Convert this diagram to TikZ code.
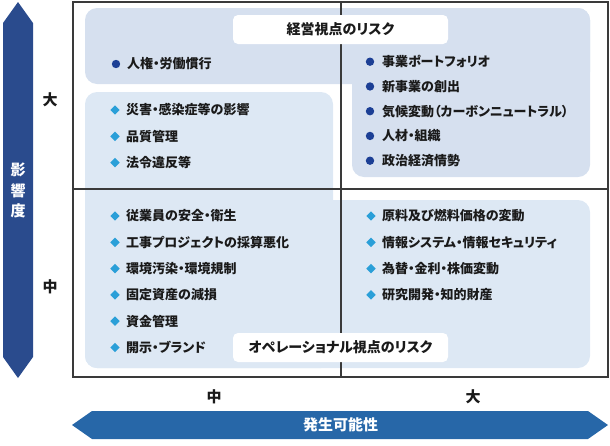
\documentclass[tikz,border=0pt]{standalone}
\usepackage{fontspec}
\setmainfont{Noto Sans CJK JP}[RawFeature=+palt]
\usetikzlibrary{shapes.geometric}
\definecolor{topc}{HTML}{D6E0EF}
\definecolor{botc}{HTML}{DDE8F4}
\definecolor{vertarrow}{HTML}{2A4B8D}
\definecolor{horarrow}{HTML}{2767A8}
\definecolor{circc}{HTML}{1C3F95}
\definecolor{diamc}{HTML}{2A9FD8}
\definecolor{framec}{HTML}{3A3A3A}
\definecolor{textc}{HTML}{1A1A1A}
\tikzset{
  x=1pt,y=-1pt,
  riskitem/.style={anchor=base west,inner sep=0pt,text=textc,font=\fontsize{13}{15}\selectfont\bfseries},
  circbullet/.style={circle,fill=circc,inner sep=0pt,minimum size=8.4pt},
  diambullet/.style={diamond,fill=diamc,inner sep=0pt,minimum size=9.6pt},
  titlebox/.style={fill=white,rounded corners=5pt,minimum width=215pt,minimum height=29pt,inner sep=0pt,text=textc,font=\fontsize{14}{16}\selectfont\bfseries},
  axislabel/.style={inner sep=0pt,text=textc,font=\fontsize{15}{17}\selectfont\bfseries},
  arrowlabel/.style={inner sep=0pt,text=white,font=\fontsize{15}{17}\selectfont\bfseries},
  gridline/.style={draw=framec,line width=1.3pt},
}
\begin{document}
\begin{tikzpicture}
\useasboundingbox (0,0) rectangle (610,445);
% background shapes
\fill[topc,rounded corners=12pt] (85,8) rectangle (590,84);
\fill[topc,rounded corners=12pt] (352,8) rectangle (590,177);
\fill[botc,rounded corners=12pt] (85,92) rectangle (333,368);
\fill[botc,rounded corners=12pt] (85,200) rectangle (590,368);
% frame and grid
\draw[gridline] (73,2) rectangle (608,377);
\coordinate (vt) at (341,2);
\coordinate (vb) at (341,377);
\coordinate (hl) at (73,189);
\coordinate (hr) at (608,189);
\draw[gridline] (vt) -- (vb);
\draw[gridline] (hl) -- (hr);
% titles
\node[titlebox] (t1) at (340.5,29.5) {経営視点のリスク};
\node[titlebox] (t2) at (340.5,347.5) {オペレーショナル視点のリスク};
% arrows
\fill[vertarrow] (18,2) -- (33,23) -- (33,357) -- (18,378) -- (3,357) -- (3,23) -- cycle;
\fill[horarrow] (72,425) -- (92,411) -- (588,411) -- (608,425) -- (588,439) -- (92,439) -- cycle;
\node[arrowlabel,align=center,font=\fontsize{15}{20.5}\selectfont\bfseries] (yl) at (18,190.5) {影\\響\\度};
\node[arrowlabel] (xl) at (340.5,425) {発生可能性};
% axis labels
\node[axislabel] (ya1) at (50,100) {大};
\node[axislabel] (ya2) at (50,287) {中};
\node[axislabel] (xa1) at (214,397) {中};
\node[axislabel] (xa2) at (473,397) {大};
% top-left item
\node[circbullet] (c0) at (116,64) {};
\node[riskitem] (i0) at (127,68.9) {人権・労働慣行};
% top-right items
\foreach \t [count=\k from 0] in {事業ポートフォリオ,新事業の創出,気候変動（カーボンニュートラル）,人材・組織,政治経済情勢}{
  \pgfmathsetmacro{\yy}{61.7+24.75*\k}
  \node[circbullet] (cr\k) at (370,\yy) {};
  \node[riskitem] (ir\k) at (382,\yy+4.9) {\t};
}
% middle-left items
\foreach \t [count=\k from 0] in {災害・感染症等の影響,品質管理,法令違反等}{
  \pgfmathsetmacro{\yy}{110+26.3*\k}
  \node[diambullet] (dm\k) at (115,\yy) {};
  \node[riskitem] (im\k) at (126,\yy+4.9) {\t};
}
% bottom-left items
\foreach \t [count=\k from 0] in {従業員の安全・衛生,工事プロジェクトの採算悪化,環境汚染・環境規制,固定資産の減損,資金管理,開示・ブランド}{
  \pgfmathsetmacro{\yy}{216+26.3*\k}
  \node[diambullet] (dl\k) at (115,\yy) {};
  \node[riskitem] (il\k) at (126,\yy+4.9) {\t};
}
% bottom-right items
\foreach \t [count=\k from 0] in {原料及び燃料価格の変動,情報システム・情報セキュリティ,為替・金利・株価変動,研究開発・知的財産}{
  \pgfmathsetmacro{\yy}{216+26.3*\k}
  \node[diambullet] (dr\k) at (371,\yy) {};
  \node[riskitem] (irr\k) at (382,\yy+4.9) {\t};
}
\end{tikzpicture}
\end{document}
